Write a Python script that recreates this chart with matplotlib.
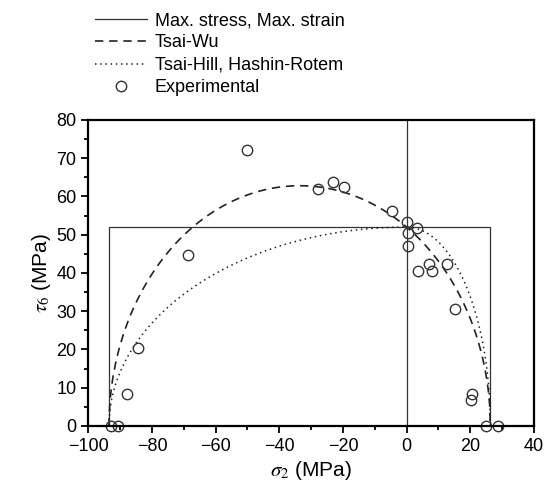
import matplotlib
matplotlib.use("Agg")
import matplotlib.pyplot as plt
from matplotlib.ticker import MultipleLocator
import numpy as np

# strengths (MPa) read from the failure envelopes
Yt = 26.3
Yc = 93.5
S = 52.0

# experimental points (sigma_2, tau_6)
exp_s2 = [-50.1, -27.7, -23.0, -19.6, -4.7, 0.2, 3.2, 0.5, 0.5, -68.8,
          3.6, 7.0, 7.9, 12.7, 15.3, -84.4, -87.9, 20.4, 20.2,
          -93.0, -90.8, 24.8, 28.7]
exp_t6 = [72.1, 62.0, 63.9, 62.5, 56.1, 53.2, 51.8, 50.5, 47.0, 44.8,
          40.5, 42.3, 40.5, 42.3, 30.6, 20.3, 8.4, 8.4, 6.9,
          0.0, 0.0, 0.0, 0.0]

plt.rcParams['font.family'] = ['Liberation Sans', 'DejaVu Sans']
plt.rcParams['mathtext.fontset'] = 'stix'

fig = plt.figure(figsize=(5.44, 4.97), dpi=100)
ax = fig.add_axes([0.1623, 0.1429, 0.8193, 0.6157])

# max stress / max strain rectangle
rect_x = [-Yc, -Yc, Yt, Yt]
rect_y = [0, S, S, 0]
l1, = ax.plot(rect_x, rect_y, color='#333333', lw=0.9)
ax.axvline(0, color='#333333', lw=0.9)

s2 = np.linspace(-Yc, Yt, 600)

# Tsai-Wu
f2 = 1 / Yt - 1 / Yc
f22 = 1 / (Yt * Yc)
f66 = 1 / S**2
tw = np.sqrt(np.clip((1 - f2 * s2 - f22 * s2**2) / f66, 0, None))
l2, = ax.plot(s2, tw, color='#222222', lw=1.2, dashes=(5, 3.5))

# Tsai-Hill
Y = np.where(s2 < 0, Yc, Yt)
th = S * np.sqrt(np.clip(1 - (s2 / Y)**2, 0, None))
l3, = ax.plot(s2, th, color='#222222', lw=1.1, dashes=(1.0, 2.4))

l4, = ax.plot(exp_s2, exp_t6, 'o', mfc='none', mec='#333333', ms=7.5, mew=1.0,
              clip_on=False)

ax.set_xlim(-100, 40)
ax.set_ylim(0, 80)
ax.xaxis.set_major_locator(MultipleLocator(20))
ax.xaxis.set_minor_locator(MultipleLocator(10))
ax.yaxis.set_major_locator(MultipleLocator(10))
ax.yaxis.set_minor_locator(MultipleLocator(5))
ax.tick_params(which='both', direction='out', width=1.3, labelsize=13)
ax.tick_params(which='major', length=5)
ax.tick_params(which='minor', length=3)
for sp in ax.spines.values():
    sp.set_linewidth(1.6)
ax.set_xticklabels([f'{int(v)}'.replace('-', '\u2212') for v in ax.get_xticks()])

ax.set_xlabel(r'$\sigma_2$ (MPa)', fontsize=15, labelpad=3)
ax.set_ylabel(r'$\tau_6$ (MPa)', fontsize=15, labelpad=2)

fig.legend([l1, l2, l3, l4],
           ['Max. stress, Max. strain', 'Tsai-Wu', 'Tsai-Hill, Hashin-Rotem',
            'Experimental'],
           loc='upper left', bbox_to_anchor=(95 / 544, 1 - 12 / 497),
           borderaxespad=0, borderpad=0, frameon=False,
           fontsize=13, handlelength=2.9, handletextpad=0.4,
           labelspacing=0.3)

fig.savefig('out.png', dpi=100)
